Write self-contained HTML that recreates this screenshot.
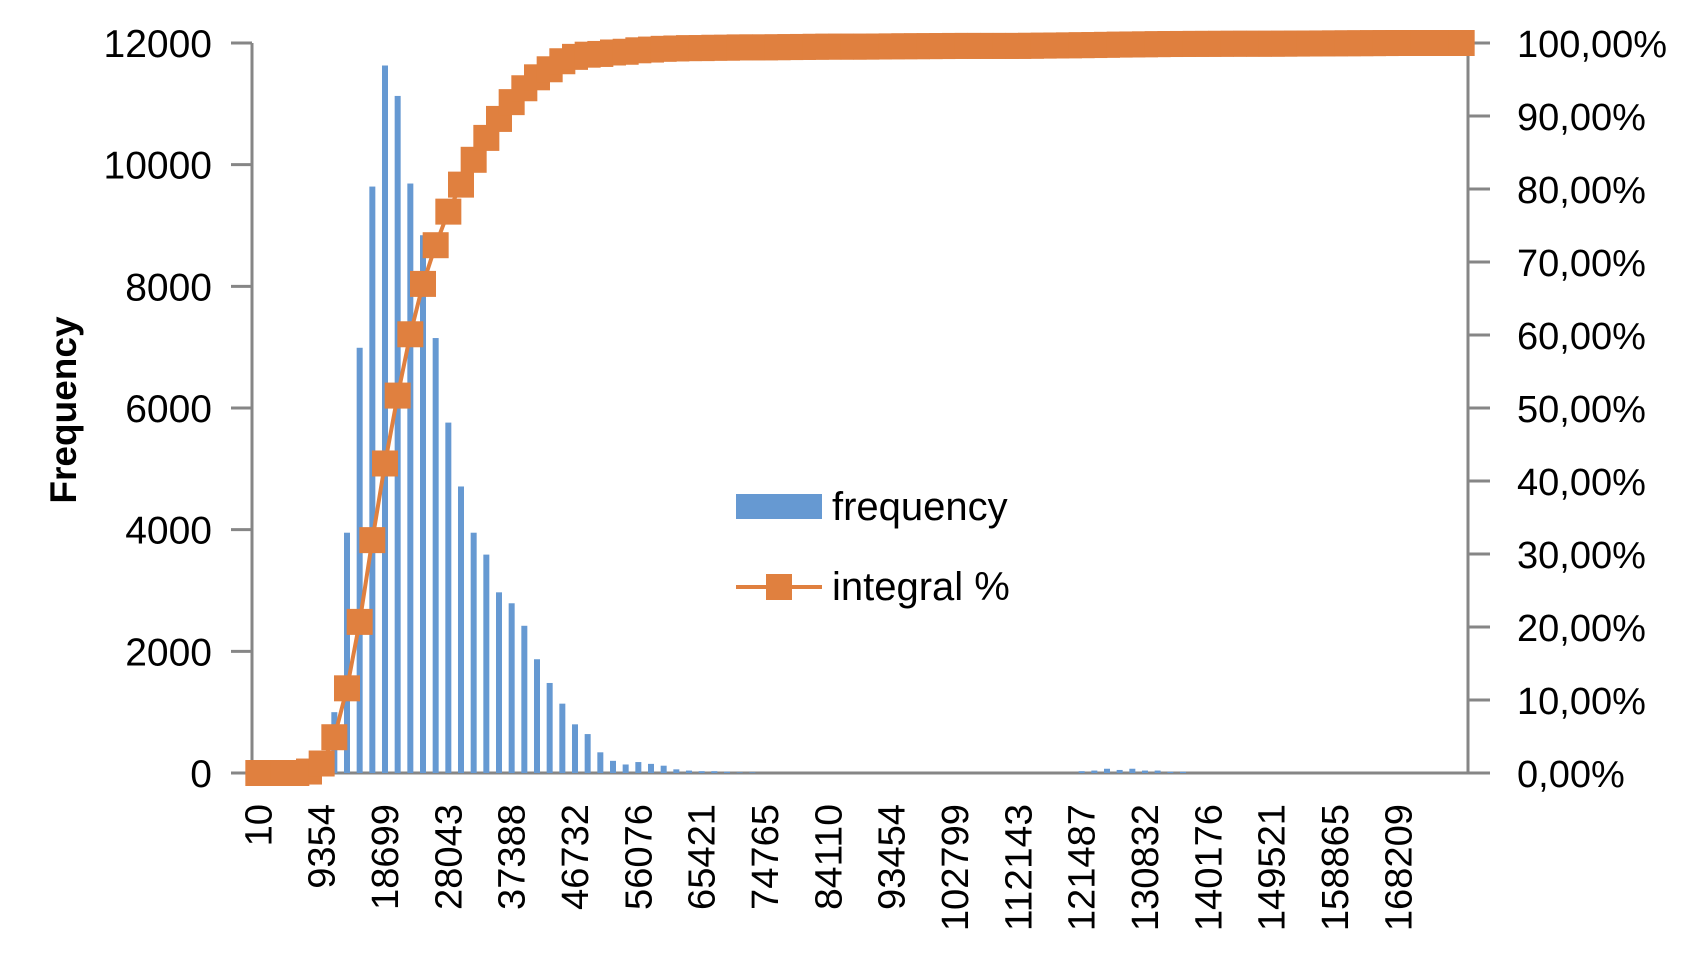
<!DOCTYPE html>
<html><head><meta charset="utf-8"><style>
html,body{margin:0;padding:0;background:#fff;}
svg text{font-family:"Liberation Sans",sans-serif;fill:#000;}
</style></head><body>
<svg id="chart" width="1694" height="969" viewBox="0 0 1694 969" xmlns="http://www.w3.org/2000/svg">
<g id="axes"></g><g id="bars"></g><g id="line"></g><g id="labels"></g>
<g>
  <rect x="736" y="494" width="86" height="25" fill="#6699D2"/>
  <text x="832" y="520" font-size="40">frequency</text>
  <line x1="736" y1="587" x2="822" y2="587" stroke="#E0803F" stroke-width="4"/>
  <rect x="766" y="574" width="26" height="26" fill="#E0803F"/>
  <text x="832" y="600" font-size="40">integral %</text>
</g>
<text transform="translate(76,410) rotate(-90)" text-anchor="middle" font-size="37" font-weight="bold">Frequency</text>
</svg>
<script>
const nCats = 96;
const xTickIndex = [0,5,10,15,20,25,30,35,40,45,50,55,60,65,70,75,80,85,90];
const xTickLabels = ["10","9354","18699","28043","37388","46732","56076","65421","74765","84110","93454","102799","112143","121487","130832","140176","149521","158865","168209"];
const freqIndex = [6,7,8,9,10,11,12,13,14,15,16,17,18,19,20,21,22,23,24,25,26,27,28,29,30,31,32,33,34,35,36,37,38,39,65,66,67,68,69,70,71,72,73];
const freqValues = [1000,3950,6990,9640,11630,11130,9690,8840,7150,5760,4710,3950,3590,2970,2790,2420,1870,1480,1140,800,640,340,200,140,180,150,120,60,40,30,30,20,10,10,30,40,70,50,70,40,40,20,20];
const pctValues = [0,0,0,0,0.2,1.3,4.9,11.6,20.7,31.9,42.4,51.7,60.1,67,72.3,76.9,80.6,84,87,89.6,91.9,93.8,95.3,96.4,97.5,98.1,98.4,98.5,98.7,98.8,99.0,99.1,99.2,99.25,99.3,99.3,99.35,99.35,99.4,99.4,99.4,99.42,99.44,99.46,99.48,99.5,99.5,99.5,99.5,99.52,99.54,99.55,99.56,99.57,99.58,99.6,99.6,99.6,99.6,99.6,99.6,99.62,99.64,99.66,99.68,99.7,99.72,99.75,99.78,99.8,99.82,99.84,99.86,99.87,99.88,99.88,99.89,99.9,99.9,99.9,99.9,99.91,99.92,99.93,99.94,99.95,99.96,99.97,99.98,99.99,100,100,100,100,100,100];
const leftTicks = [0,2000,4000,6000,8000,10000,12000];
const rightTicks = [0,10,20,30,40,50,60,70,80,90,100];

const NS='http://www.w3.org/2000/svg';
const L=252,R=1468,T=43,B=773;
const cw=(R-L)/nCats;
const xC=i=>L+cw*(i+0.5);
const yF=v=>B-(v/12000)*(B-T);
const yP=v=>B-(v/100)*(B-T);
function mk(tag,attrs,parent){const e=document.createElementNS(NS,tag);for(const k in attrs)e.setAttribute(k,attrs[k]);document.getElementById(parent).appendChild(e);return e;}

let a=mk('line',{x1:L,y1:T,x2:L,y2:B+1,stroke:'#868686','stroke-width':3},'axes');


a=mk('line',{x1:R,y1:T,x2:R,y2:B+1,stroke:'#868686','stroke-width':3},'axes');


a=mk('line',{x1:231,y1:B,x2:1483,y2:B,stroke:'#868686','stroke-width':3},'axes');


leftTicks.forEach(v=>{
  const y=yF(v);
  const t=mk('line',{x1:231,y1:y,x2:L,y2:y,stroke:'#868686','stroke-width':3},'axes');
  
  
  const tx=mk('text',{x:212,y:y+14,'text-anchor':'end','font-size':39},'labels');
  tx.textContent=v;
  
  
});
rightTicks.forEach(v=>{
  const y=yP(v);
  const t=mk('line',{x1:R,y1:y,x2:1490,y2:y,stroke:'#868686','stroke-width':3},'axes');
  
  
  const tx=mk('text',{x:1517,y:y+14,'font-size':38},'labels');
  tx.textContent=v.toFixed(2).replace('.',',')+'%';
  
  
});
xTickIndex.forEach((i,k)=>{
  const lab=xTickLabels[k];
  const x=xC(i)+13;
  const tx=mk('text',{transform:`translate(${x},804) rotate(-90)`,'text-anchor':'end','font-size':38,textLength:21.2*lab.length,lengthAdjust:'spacingAndGlyphs'},'labels');
  tx.textContent=lab;
  
  
});
freqIndex.forEach((idx,k)=>{
  const v=freqValues[k];
  const y=yF(v);
  const r=mk('rect',{x:xC(idx)-3,y:y,width:6,height:B-y,fill:'#6699D2'},'bars');
  
  
});
const pts=pctValues.map((v,i)=>xC(i)+','+yP(v)).join(' ');
const pl=mk('polyline',{points:pts,fill:'none',stroke:'#E0803F','stroke-width':4},'line');


pctValues.forEach((v,i)=>{
  const m=mk('rect',{x:xC(i)-13,y:yP(v)-13,width:26,height:26,fill:'#E0803F'},'line');
  
  
});
</script>
</body></html>
